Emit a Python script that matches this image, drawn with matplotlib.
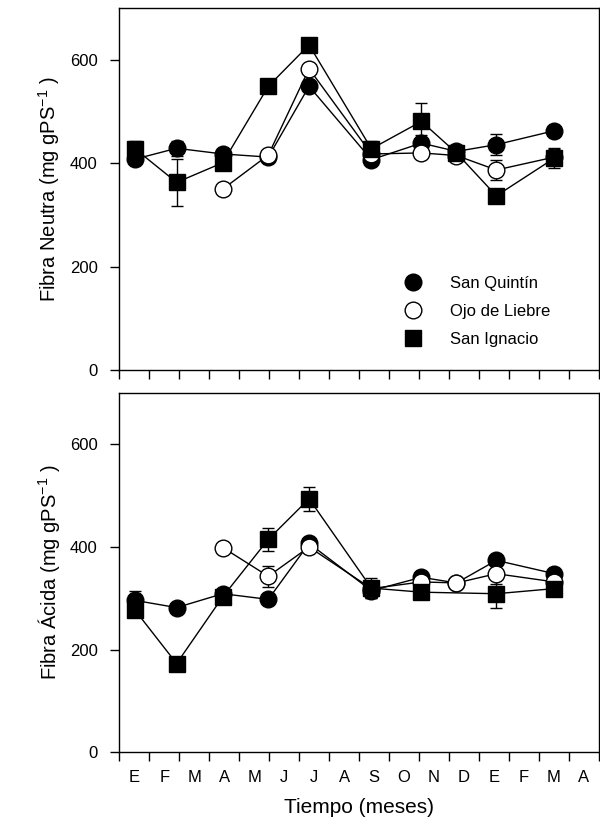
import numpy as np
import matplotlib
matplotlib.use("Agg")
import matplotlib.pyplot as plt
from matplotlib.lines import Line2D

plt.rcParams['font.family'] = ['Liberation Sans', 'DejaVu Sans']
plt.rcParams['mathtext.fontset'] = 'custom'
plt.rcParams['mathtext.rm'] = 'Liberation Sans'
plt.rcParams['mathtext.default'] = 'regular'

# sampling dates, in months from the first January
fechas = [0.52, 1.91, 3.45, 4.97, 6.33, 8.41, 10.08, 11.25, 12.58, 14.52]
meses = ['E', 'F', 'M', 'A', 'M', 'J', 'J', 'A', 'S', 'O', 'N', 'D', 'E', 'F', 'M', 'A']
nan = np.nan

# Fibra Neutra
fn_quintin = [408, 429, 418, 412, 549, 407, 439, 423, 436, 463]
fn_quintin_err = [10, 15, 8, 8, 10, 10, 15, 8, 20, 10]
fn_ojo = [nan, nan, 350, 416, 583, 418, 420, 415, 387, 412]
fn_ojo_err = [nan, nan, 8, 8, 10, 10, 10, 8, 20, 15]
fn_ignacio = [428, 363, 401, 549, 629, 428, 481, 420, 337, 410]
fn_ignacio_err = [15, 45, 10, 10, 10, 15, 35, 8, 10, 20]

# Fibra Acida
fa_quintin = [296, 282, 309, 298, 407, 315, 341, 330, 374, 348]
fa_quintin_err = [18, 8, 10, 8, 8, 15, 10, 8, 10, 10]
fa_ojo = [nan, nan, 399, 343, 400, 319, 332, 330, 348, 332]
fa_ojo_err = [nan, nan, 8, 20, 8, 10, 10, 8, 20, 10]
fa_ignacio = [277, 173, 303, 415, 494, 320, 312, nan, 309, 319]
fa_ignacio_err = [10, 8, 10, 22, 23, 20, 8, nan, 28, 10]

fig = plt.figure(figsize=(6, 8.24), dpi=100)
ax1 = fig.add_axes([0.199, 0.551, 0.799, 0.439])
ax2 = fig.add_axes([0.199, 0.087, 0.799, 0.436])


def serie(ax, y, err, face, marker, ms):
    x = np.array(fechas)
    y = np.array(y, dtype=float)
    err = np.array(err, dtype=float)
    ok = ~np.isnan(y)
    ax.errorbar(x[ok], y[ok], yerr=err[ok], color='black', lw=1, elinewidth=1,
                capsize=4, capthick=1, marker=marker, ms=ms, mfc=face,
                mec='black', mew=1)


for ax, datos in [(ax1, [(fn_quintin, fn_quintin_err), (fn_ojo, fn_ojo_err), (fn_ignacio, fn_ignacio_err)]),
                  (ax2, [(fa_quintin, fa_quintin_err), (fa_ojo, fa_ojo_err), (fa_ignacio, fa_ignacio_err)])]:
    serie(ax, datos[0][0], datos[0][1], 'black', 'o', 12)
    serie(ax, datos[1][0], datos[1][1], 'white', 'o', 12)
    serie(ax, datos[2][0], datos[2][1], 'black', 's', 11)
    ax.set_xlim(0, 16)
    ax.set_ylim(0, 700)
    ax.set_yticks([0, 200, 400, 600])
    ax.set_xticks(range(17))
    ax.set_xticklabels([])
    ax.set_xticks(np.arange(0.5, 16, 1), minor=True)
    ax.tick_params(axis='both', which='major', direction='out', length=6.5, width=1,
                   labelsize=12, pad=9)
    ax.tick_params(axis='x', which='minor', length=0, labelsize=12, pad=13)
    for s in ax.spines.values():
        s.set_linewidth(1)

ax2.set_xticklabels(meses, minor=True)

ax1.set_ylabel('Fibra Neutra (mg gPS$^{-1}$ )', fontsize=14.5, labelpad=6)
ax2.set_ylabel('Fibra Ácida (mg gPS$^{-1}$ )', fontsize=14.5, labelpad=6)
ax2.set_xlabel('Tiempo (meses)', fontsize=15, labelpad=9)

handles = [
    Line2D([], [], ls='none', marker='o', ms=12, mfc='black', mec='black'),
    Line2D([], [], ls='none', marker='o', ms=12, mfc='white', mec='black'),
    Line2D([], [], ls='none', marker='s', ms=11, mfc='black', mec='black'),
]
ax1.legend(handles, ['San Quintín', 'Ojo de Liebre', 'San Ignacio'],
           loc='center left', bbox_to_anchor=(0.56, 0.162), frameon=False,
           fontsize=12, handlelength=1.2, handletextpad=1.6, labelspacing=0.8)

fig.savefig('out.png', dpi=100)
